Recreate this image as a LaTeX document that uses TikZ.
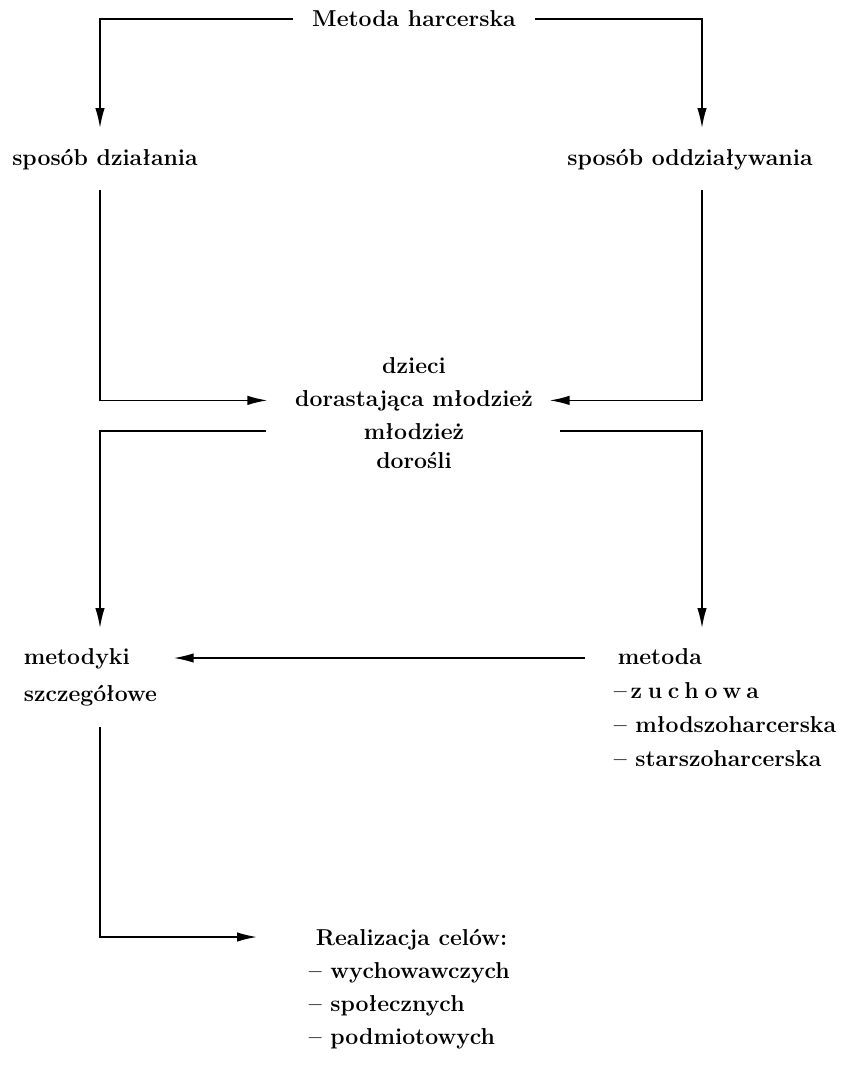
\documentclass[tikz,border=0pt]{standalone}
\usepackage{fontspec}
\setmainfont{Latin Modern Roman}
\usetikzlibrary{arrows.meta,calc,positioning}

\begin{document}
\begin{tikzpicture}[
  x=1pt, y=-1pt,
  line width=1.6pt,
  lbl/.style={
    font=\bfseries\fontsize{23}{34}\selectfont,
    inner xsep=16pt,
    inner ysep=20pt
    },
  listbox/.style={lbl, align=left, anchor=north west},
  arr/.style={-{Latex[length=20pt,width=9.5pt]}}
]
\useasboundingbox (0,0) rectangle (841,1065);
\coordinate (lc) at (100,0);
\coordinate (rc) at (702,0);

\node [lbl, anchor=base, inner xsep=18pt] (metoda) at (414,27) {Metoda harcerska};
\node [lbl, anchor=base] (dzial) at (105,165) {sposób działania};
\node [lbl, anchor=base] (oddz) at (690,165) {sposób oddziaływania};
\node [lbl, anchor=base] (dzieci) at (414,373) {dzieci};
\node [lbl, anchor=base] (dorast) at (414,406) {dorastająca młodzież};
\node [lbl, anchor=base] (mlodz) at (414,439) {młodzież};
\node [lbl, anchor=base] (dorosli) at (414,468) {dorośli};
\node [listbox, font=\bfseries\fontsize{23}{37}\selectfont] (metodyki) at (7,628)
  {metodyki\\szczegółowe};
\node [listbox] (metodn) at (597,628)
  {\hspace{4pt}metoda\\--\,{\addfontfeature{LetterSpace=25}zuchowa}\\-- młodszoharcerska\\-- starszoharcerska};
\node [listbox, font=\bfseries\fontsize{23}{33}\selectfont] (realiz) at (292,908)
  {\hspace{7pt}Realizacja celów:\\-- wychowawczych\\-- społecznych\\-- podmiotowych};

\draw [arr] (metoda.west) -| (lc |- dzial.north);
\draw [arr] (metoda.east) -| (rc |- oddz.north);
\draw [arr] (lc |- dzial.south) |- ([xshift=-11pt]dorast.west);
\draw [arr] (rc |- oddz.south) |- (dorast.east);
\draw [arr] ([xshift=-12pt]dorast.west |- mlodz) -| (lc |- metodyki.north);
\draw [arr] ([xshift=10pt]dorast.east |- mlodz) -| (rc |- metodn.north);
\draw [arr] ([shift={(-12pt,-30pt)}]metodn.north west) -- ([yshift=-30pt]metodyki.north east);
\draw [arr] (lc |- metodyki.south) |- ([shift={(-35pt,-29pt)}]realiz.north west);

\end{tikzpicture}
\end{document}
